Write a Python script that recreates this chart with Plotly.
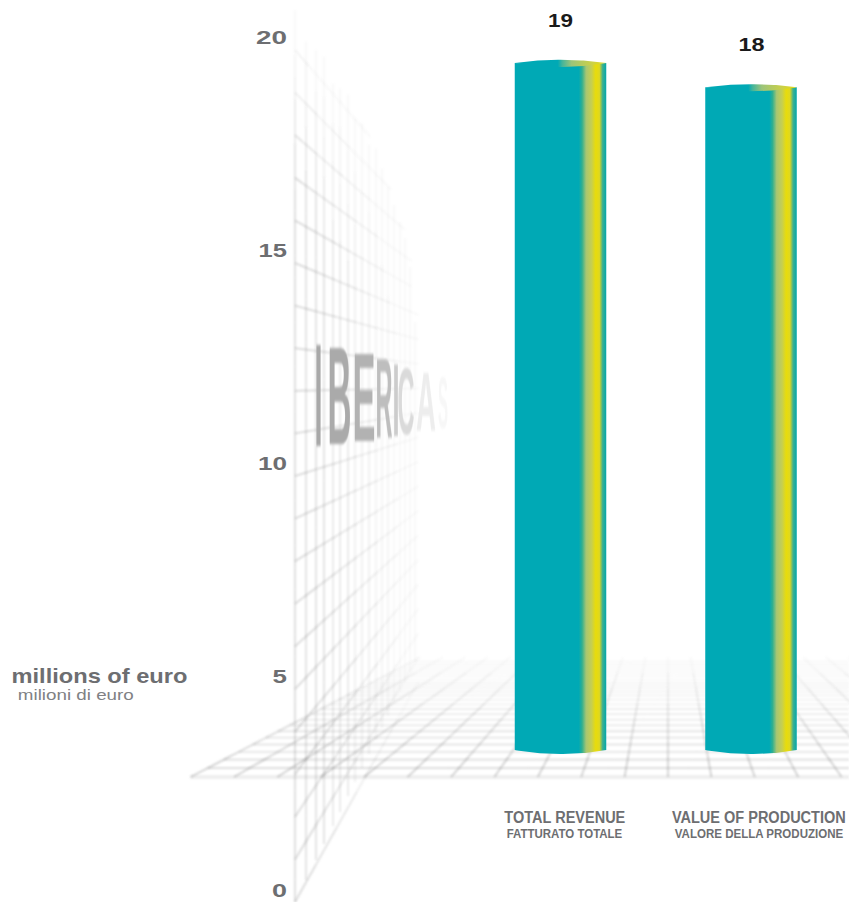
import json
import plotly.graph_objects as go

# ---------- data ----------
categories_en = ["TOTAL REVENUE", "VALUE OF PRODUCTION"]
categories_it = ["FATTURATO TOTALE", "VALORE DELLA PRODUZIONE"]
value_labels = ["19", "18"]
bar_tops = [19.39, 18.82]
bar_base = 3.28
y_ticks = [0, 5, 10, 15, 20]
bar_centers = [560.5, 751.0]
label_offsets = [4, 8]
bar_width = 91.5

watermark_letters = list("IBERICAS")
watermark_x = [318.5, 339.5, 364, 384, 396, 406, 426, 443]
watermark_y = [11.27, 11.27, 11.27, 11.27, 11.25, 11.25, 11.25, 11.25]
watermark_size = [146, 140, 126, 114, 104, 94, 84, 72]
watermark_w = [8, 24, 23, 17, 7, 17, 20, 10]
watermark_col = ["#a8a8a8", "#aaaaaa", "#b2b2b2", "#bebebe", "#cccccc", "#dadada", "#ededed", "#f7f7f7"]

wall_columns = [295, 306, 316, 324, 333, 340, 348, 355, 362, 369, 376, 382, 388, 394, 400, 405, 410, 415, 420, 425]
wall_rows = [50 + 42.6 * i for i in range(21)]
wall_vanish = (585, 385)
floor_vanish = (668, 528)
floor_columns = [668 + 43.4 * k for k in range(-11, 9)]
floor_rows = [528 + 249 / (1 + k * 0.0375) for k in range(0, 33)]

PX0, PXU = 890.0, 42.65   # y axis: pixel of value 0, pixels per unit


def v(py):
    return (PX0 - py) / PXU


TEAL = "#00A9B5"
GREY = "#6d6e71"
fig = go.Figure()


def add_faded(segs, alpha_fn, width=1.2, rgb="125,125,125", steps=24, bins=10, amax=0.5):
    buckets = {}
    for (x0, y0, x1, y1) in segs:
        for i in range(steps):
            a0, a1 = i / steps, (i + 1) / steps
            xa, ya = x0 + (x1 - x0) * a0, y0 + (y1 - y0) * a0
            xb, yb = x0 + (x1 - x0) * a1, y0 + (y1 - y0) * a1
            al = alpha_fn((xa + xb) / 2, (ya + yb) / 2)
            b = int(round(min(max(al / amax, 0), 1) * bins))
            if b <= 0:
                continue
            s = buckets.setdefault(b, ([], []))
            s[0].extend([xa, xb, None])
            s[1].extend([v(ya), v(yb), None])
    for b, (xs, ys) in sorted(buckets.items()):
        fig.add_trace(go.Scatter(x=xs, y=ys, mode="lines", hoverinfo="skip", showlegend=False,
                                 line=dict(color=f"rgba({rgb},{b / bins * amax:.3f})", width=width)))


def clip(a):
    return max(0.0, min(1.0, a))


# floor
def floor_alpha(x, y):
    return 0.36 * clip((y - 648) / 118)


fx, fy = floor_vanish
bottom = 777
fsegs = []
for c in floor_columns:
    t = (bottom - 652) / (bottom - fy)
    fsegs.append((c, bottom, c + (fx - c) * t, 652))
add_faded(fsegs, floor_alpha, width=1.8)

rsegs = []
x_left = floor_columns[0]
for y in floor_rows[1:]:
    if y < 652:
        continue
    t = (bottom - y) / (bottom - fy)
    rsegs.append((x_left + (fx - x_left) * t, y, 849, y))
add_faded(rsegs, lambda x, y: 0.7 * floor_alpha(x, y), width=1.8, steps=8)
add_faded([(x_left, bottom, 849, bottom)], lambda x, y: 0.13, width=3.5, steps=1)


# wall
def wall_alpha(x, y):
    a = 0.30 * clip(1 - (x - 295) / 138) ** 1.1
    a *= clip((y - (5 + 1.4 * (x - 295))) / 190) ** 0.9
    return a


wx, wy = wall_vanish
wsegs = []
for c in wall_columns:
    top = 10 + 0.9 * (c - 295)
    bot = 902 - 2.0 * (c - 295)
    wsegs.append((c, top, c, bot))
add_faded(wsegs, wall_alpha, width=1.6, steps=40)

hsegs = []
for r in wall_rows:
    t = (432 - 295) / (wx - 295)
    x_end = 295 + (wx - 295) * t
    hsegs.append((295, r, x_end, r + (wy - r) * t))
add_faded(hsegs, lambda x, y: 1.1 * wall_alpha(x, y), width=1.7, steps=20)
n_grid_traces = len(fig.data)

# watermark
fig.add_trace(go.Scatter(
    x=watermark_x, y=watermark_y, mode="text", text=watermark_letters, hoverinfo="skip", showlegend=False,
    textposition="middle center",
    textfont=dict(family="Liberation Sans", size=watermark_size, color=watermark_col, weight="bold"),
))

# cylinders
body_scale = [[0, TEAL], [0.70, TEAL], [0.735, "#2FAF90"], [0.78, "#A8C672"], [0.84, "#C6CF50"],
              [0.885, "#E8DC0A"], [0.925, "#DFD820"], [0.96, "#3FB08F"], [1, "#00A7AC"]]
cap_scale = [[0, TEAL], [0.47, TEAL], [0.52, "#45B59A"], [0.62, "#9CC47A"], [0.85, "#CDD145"], [1, "#E6DA10"]]

N = 40
for cx, top in zip(bar_centers, bar_tops):
    xs, ys = [], []
    tops_t = [-1 + 2 * i / N for i in range(N + 1)]
    for t in tops_t:
        xs.append(cx + t * bar_width / 2)
        ys.append(top - 2.0 / PXU * (1 - t * t))
    for t in reversed(tops_t):
        xs.append(cx + t * bar_width / 2)
        ys.append(bar_base - 4.0 / PXU * (1 - t * t))
    xs.append(xs[0]); ys.append(ys[0])
    fig.add_trace(go.Scatter(x=xs, y=ys, mode="lines", line=dict(width=0), fill="toself", hoverinfo="skip",
                             showlegend=False,
                             fillgradient=dict(type="horizontal", colorscale=body_scale)))
    xc, yc = [], []
    for t in tops_t:
        xc.append(cx + t * bar_width / 2)
        yc.append(top + 3.2 / PXU * (1 - t * t))
    for t in reversed(tops_t):
        xc.append(cx + t * bar_width / 2)
        yc.append(top - 4.0 / PXU * (1 - t * t))
    xc.append(xc[0]); yc.append(yc[0])
    fig.add_trace(go.Scatter(x=xc, y=yc, mode="lines", line=dict(width=0), fill="toself", hoverinfo="skip",
                             showlegend=False,
                             fillgradient=dict(type="horizontal", colorscale=cap_scale)))

# text: value -> drawn width in pixels (the reference's faces are wider or narrower than any installed one)
text_widths = {"19": 25, "18": 26, "millions of euro": 176, "milioni di euro": 116,
               "TOTAL REVENUE": 121, "FATTURATO TOTALE": 116,
               "VALUE OF PRODUCTION": 174, "VALORE DELLA PRODUZIONE": 169,
               "0": 15, "5": 15, "10": 29, "15": 29, "20": 31}

ann = []
for cx, top, lab, en, it, off in zip(bar_centers, bar_tops, value_labels, categories_en, categories_it, label_offsets):
    ann.append(dict(x=cx, y=top, text=f"<b>{lab}</b>", showarrow=False, yshift=43, yanchor="middle",
                    font=dict(family="Liberation Sans", size=19, color="#1a1a1a")))
    ann.append(dict(x=cx + off, y=v(817), text=f"<b>{en}</b>", showarrow=False, yanchor="middle",
                    font=dict(family="Liberation Sans", size=17, color=GREY)))
    ann.append(dict(x=cx + off, y=v(833), text=f"<b>{it}</b>", showarrow=False, yanchor="middle",
                    font=dict(family="Liberation Sans", size=13, color=GREY)))
ann.append(dict(x=99, y=v(676), text="<b>millions of euro</b>", showarrow=False, yanchor="middle",
                font=dict(family="Liberation Sans", size=20, color=GREY)))
ann.append(dict(x=76, y=v(694), text="milioni di euro", showarrow=False, yanchor="middle",
                font=dict(family="Liberation Sans", size=15.5, color="#808184")))

fig.update_layout(
    width=849, height=902, margin=dict(l=0, r=0, t=0, b=0), paper_bgcolor="white", plot_bgcolor="white",
    showlegend=False, annotations=ann,
    xaxis=dict(range=[0, 849], visible=False, fixedrange=True),
    yaxis=dict(range=[v(902), v(0)], anchor="free", position=287 / 849, showgrid=False, zeroline=False,
               showline=False, tickvals=y_ticks, ticks="", fixedrange=True,
               ticktext=[f"<b>{t}</b>" for t in y_ticks],
               tickfont=dict(family="Liberation Sans", size=19, color=GREY)),
)

post = """
document.body.style.margin='0';
document.documentElement.style.overflow='hidden';
var wm = %s, nGrid = %d, widths = %s;
function squeeze(el, target, anchorRight){
  var b = el.getBBox(); if(!b.width) return;
  var cx = anchorRight ? b.x+b.width : b.x+b.width/2, cy=b.y+b.height/2;
  var old = el.getAttribute('transform') || '';
  el.setAttribute('transform', old+' translate('+cx+','+cy+') scale('+(target/b.width)+',1) translate('+(-cx)+','+(-cy)+')');
}
document.querySelectorAll('.scatterlayer .trace').forEach(function(t,i){ if(i<nGrid) t.style.filter='blur(1px)'; });
document.querySelectorAll('.scatterlayer .textpoint text').forEach(function(el,i){
  squeeze(el, wm[i]*1.0);
  el.style.filter='blur(1.7px)';
});
document.querySelectorAll('.annotation text').forEach(function(el){
  var w = widths[el.textContent.trim()]; if(w) squeeze(el, w);
});
document.querySelectorAll('.ytick text').forEach(function(el){
  var w = widths[el.textContent.trim()]; if(w) squeeze(el, w, true);
});
""" % (json.dumps(watermark_w), n_grid_traces, json.dumps(text_widths))

fig.write_html("out.html", config={"displayModeBar": False, "staticPlot": True}, post_script=post)
